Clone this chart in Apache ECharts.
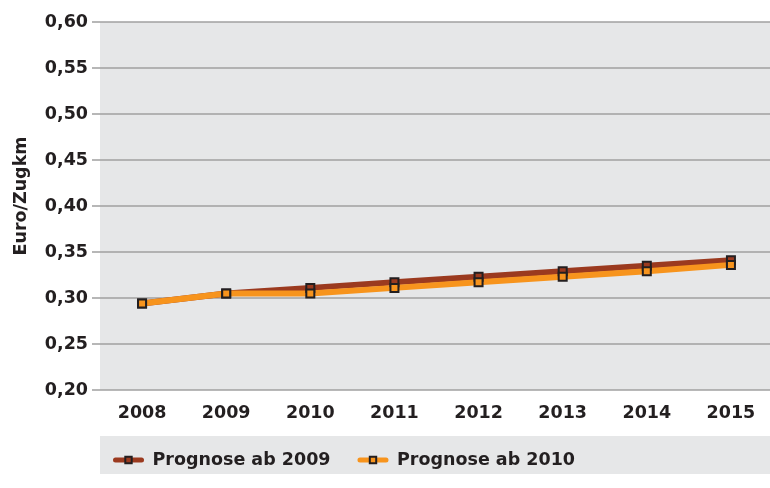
<!DOCTYPE html>
<html><head><meta charset="utf-8">
<script src="https://cdn.jsdelivr.net/npm/echarts@6/dist/echarts.min.js"></script>
<style>html,body{margin:0;padding:0;background:#fff}#c{width:770px;height:488px}</style>
</head><body><div id="c"></div>
<script>
const years = ['2008','2009','2010','2011','2012','2013','2014','2015'];
const prognose2009 = [0.294, 0.305, 0.311, 0.317, 0.323, 0.329, 0.335, 0.341];
const prognose2010 = [0.294, 0.305, 0.305, 0.311, 0.317, 0.323, 0.329, 0.336];
const seriesNames = ['Prognose ab 2009', 'Prognose ab 2010'];
const yTicks = [0.20, 0.25, 0.30, 0.35, 0.40, 0.45, 0.50, 0.55, 0.60];

const FONT = 'DejaVu Sans';
const TXT = '#231f20';
const chart = echarts.init(document.getElementById('c'), null, {renderer: 'canvas'});
function mk(name, data, color) {
  return {
    name, type: 'line', data,
    symbol: 'rect', symbolSize: 8,
    lineStyle: {color, width: 6},
    itemStyle: {color, borderColor: TXT, borderWidth: 2},
    emphasis: {disabled: true}, animation: false
  };
}
chart.setOption({
  animation: false,
  textStyle: {fontFamily: FONT},
  graphic: [{
    type: 'rect', z: -10, left: 100, top: 436,
    shape: {width: 670, height: 38}, style: {fill: '#e6e7e8'}
  }],
  grid: {left: 100, top: 22, width: 673, height: 368, show: true, backgroundColor: '#e6e7e8', borderWidth: 0,
         containLabel: false, outerBoundsMode: 'none'},
  legend: {
    left: 108, top: 446, itemWidth: 26, itemHeight: 8, itemGap: 27,
    lineStyle: {width: 5, cap: 'round'},
    itemStyle: {borderColor: TXT, borderWidth: 2},
    textStyle: {fontFamily: FONT, fontWeight: 'bold', fontSize: 17.5, color: TXT, padding: [0,0,0,6]},
    data: seriesNames
  },
  xAxis: {
    type: 'category', data: years, boundaryGap: true,
    axisLine: {show: false}, axisTick: {show: false},
    axisLabel: {color: TXT, fontFamily: FONT, fontWeight: 'bold', fontSize: 17.5, margin: 14}
  },
  yAxis: {
    type: 'value', min: 0.20, max: 0.60, interval: 0.05,
    name: 'Euro/Zugkm', nameLocation: 'middle', nameGap: 70,
    nameTextStyle: {color: TXT, fontFamily: FONT, fontWeight: 'bold', fontSize: 17.5, padding: [0,0,0,20]},
    axisLine: {show: false},
    axisTick: {show: true, length: 8, lineStyle: {color: '#a0a0a0', width: 1.5}},
    splitLine: {lineStyle: {color: '#a0a0a0', width: 1.5}},
    axisLabel: {color: TXT, fontFamily: FONT, fontWeight: 'bold', fontSize: 17.5, margin: 12,
      formatter: v => { const t = yTicks.find(x => Math.abs(x - v) < 1e-6); return (t !== undefined ? t : v).toFixed(2).replace('.', ','); }}
  },
  series: [mk(seriesNames[0], prognose2009, '#9b3a1f'), mk(seriesNames[1], prognose2010, '#f7941d')]
});
</script></body></html>
